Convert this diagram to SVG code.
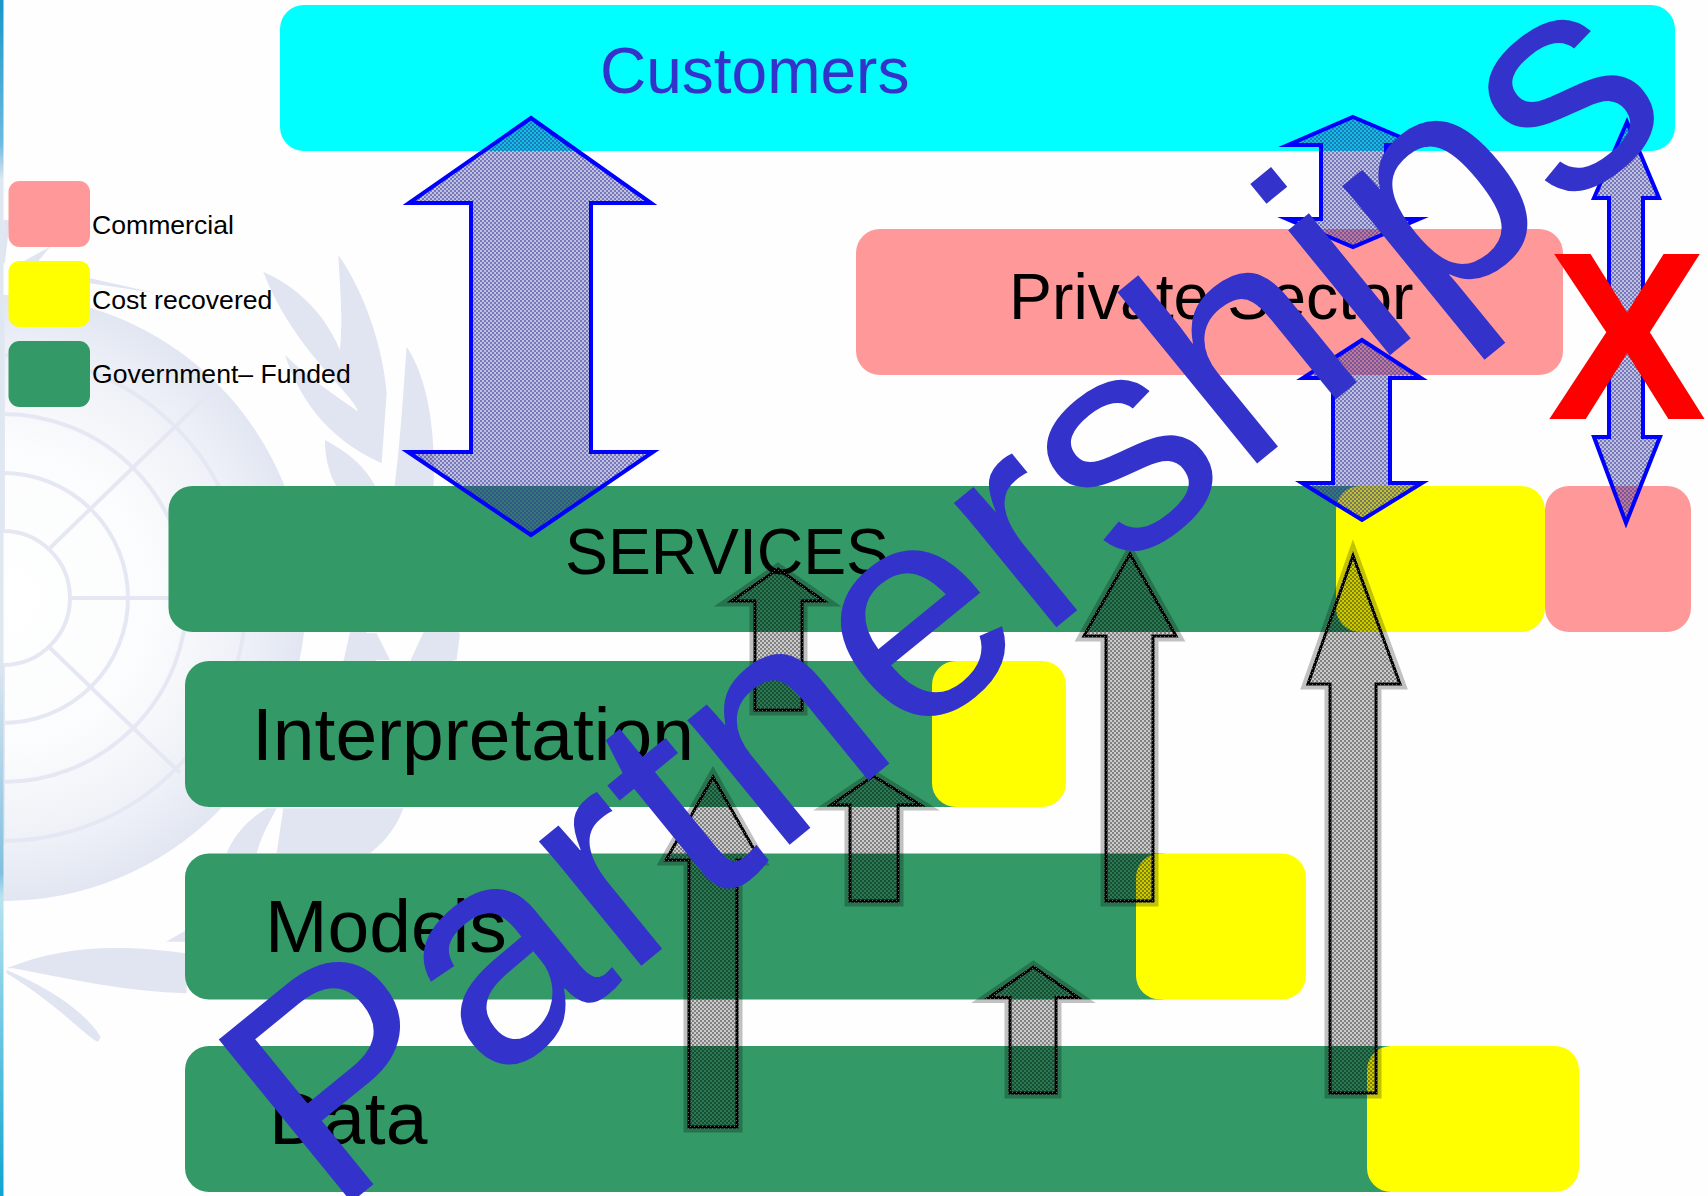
<svg xmlns="http://www.w3.org/2000/svg" width="1708" height="1196" viewBox="0 0 1708 1196">
<style>
text{font-family:"Liberation Sans",Arial,sans-serif}
.green{fill:#339966}.yellow{fill:#ffff00}.pink{fill:#ff9999}.cyan{fill:#00ffff}
.lab{fill:#000;font-size:75px}.leg{fill:#000;font-size:26.6px}
.ring{fill:none;stroke:#e5e8f3;stroke-width:4}
.leaf{fill:#e1e4f1}
.blue{fill:url(#bf);stroke:#0000ff;stroke-width:4;stroke-miterlimit:10}
.black{fill:url(#kf);stroke:url(#ks);stroke-width:3;stroke-miterlimit:10}
.halo{fill:none;stroke:url(#hf);stroke-width:11;stroke-miterlimit:10}
</style>
<defs>
<linearGradient id="strip" x1="0" y1="0" x2="0" y2="1">
<stop offset="0" stop-color="#1a96c8"/><stop offset=".12" stop-color="#6cbadf"/><stop offset=".15" stop-color="#dfe7f1"/><stop offset=".55" stop-color="#dfe7f1"/><stop offset=".73" stop-color="#7fc0de"/><stop offset=".75" stop-color="#b8e3f0"/><stop offset="1" stop-color="#10a4d0"/>
</linearGradient>
<radialGradient id="disc" gradientUnits="userSpaceOnUse" cx="3" cy="598" r="303">
<stop offset="0" stop-color="#ffffff"/><stop offset=".5" stop-color="#fbfcfd"/><stop offset=".8" stop-color="#eef1f7"/><stop offset="1" stop-color="#e2e6f2"/>
</radialGradient>
<pattern id="bf" patternUnits="userSpaceOnUse" width="4" height="4">
<rect width="4" height="4" fill="#333399" fill-opacity=".3"/><rect width="2" height="2" fill="#333399" fill-opacity=".52"/><rect x="2" y="2" width="2" height="2" fill="#333399" fill-opacity=".52"/>
</pattern>
<pattern id="kf" patternUnits="userSpaceOnUse" width="4" height="4">
<rect width="4" height="4" fill="#000" fill-opacity=".2"/><rect width="2" height="2" fill="#000" fill-opacity=".36"/><rect x="2" y="2" width="2" height="2" fill="#000" fill-opacity=".36"/>
</pattern>
<pattern id="ks" patternUnits="userSpaceOnUse" width="4" height="4">
<rect width="4" height="4" fill="#000"/><rect width="1" height="1" fill="#666"/><rect x="2" y="2" width="1" height="1" fill="#666"/>
</pattern>
<pattern id="hf" patternUnits="userSpaceOnUse" width="4" height="4">
<rect width="4" height="4" fill="#000" fill-opacity=".24"/>
</pattern>
<path id="p1" d="M778,569L824,601H802V710H755V601H731.5Z"/>
<path id="p2" d="M713,777L760,860H737V1127H689V860H666Z"/>
<path id="p3" d="M873.5,776L920.5,805H898V901H850V805H831Z"/>
<path id="p4" d="M1130,554L1176,636H1153V901H1106V636H1084Z"/>
<path id="p5" d="M1033.5,967L1078,997.5H1056V1093H1010V997.5H989Z"/>
<path id="p6" d="M1353,555.5L1400,684H1376V1093H1330V684H1308Z"/>
<mask id="outside" maskUnits="userSpaceOnUse" x="0" y="0" width="1708" height="1196">
<rect width="1708" height="1196" fill="#fff"/>
<g fill="#000"><use href="#p1"/><use href="#p2"/><use href="#p3"/><use href="#p4"/><use href="#p5"/><use href="#p6"/></g>
</mask>
</defs>
<rect id="background" width="1708" height="1196" fill="#fefefe"/>
<g id="emblem">
<g transform="translate(0,220) scale(.3333)">
<path class="leaf" d="M1015,105C1090,210 1150,380 1160,520L1145,730C1040,680 920,600 855,405C920,470 1010,530 1075,575C1060,520 880,390 790,155C880,195 970,270 1020,390C1030,300 1020,200 1015,105Z"/>
<path class="leaf" d="M1220,380C1280,470 1310,620 1300,830H1180C1200,680 1210,520 1220,380Z"/>
<path class="leaf" d="M975,660C1050,700 1110,750 1140,830H1030C990,780 975,720 975,660Z"/>
<path class="leaf" d="M1040,1320L1080,1240H1130L1170,1320Z"/>
<path class="leaf" d="M1270,1320L1310,1240H1380L1370,1320Z"/>
<path class="leaf" d="M10,0L30,0L14,130L8,130Z"/>
<path class="leaf" d="M60,130L150,80L110,130Z"/>
<path class="leaf" d="M270,175L470,220L270,190Z"/>
</g>
<g transform="translate(0,620) scale(.3333)">
<path class="leaf" d="M680,700C700,650 740,600 800,565H830C800,620 780,660 770,700Z"/>
<path class="leaf" d="M830,700L850,565H1060L960,670L1060,565H1210C1190,620 1160,660 1110,700Z"/>
<path class="leaf" d="M1030,125L1060,-5H1085L1130,125Z"/>
<path class="leaf" d="M1230,125L1290,-5H1385L1360,125Z"/>
<path class="leaf" d="M20,1045C180,980 340,970 560,1000V1120C380,1115 220,1080 40,1045Z"/>
<path class="leaf" d="M20,1050C140,1100 250,1170 302,1250L295,1265C270,1262 170,1150 20,1060Z"/>
<path class="leaf" d="M498,965L560,930V965Z"/>
</g>
<circle cx="3" cy="598" r="303" fill="url(#disc)"/>
<g class="ring">
<circle cx="3" cy="598" r="67"/><circle cx="3" cy="598" r="125"/><circle cx="3" cy="598" r="184"/><circle cx="3" cy="598" r="243"/>
<path d="M70,598H300M50,548L213,390M50,648L180,773M3,531V298M3,665V845"/>
</g>
</g>
<rect id="strip-edge" width="3.5" height="1196" fill="url(#strip)"/>

<g id="legend-commercial"><rect class="pink" x="8.500" y="181" width="81.500" height="66" rx="11"/><text class="leg" x="92" y="233.500">Commercial</text></g>
<g id="legend-cost-recovered"><rect class="yellow" x="8.500" y="261" width="81.500" height="66" rx="11"/><text class="leg" x="92" y="309">Cost recovered</text></g>
<g id="legend-government"><rect class="green" x="8.500" y="341" width="81.500" height="66" rx="11"/><text class="leg" x="92" y="383">Government– Funded</text></g>

<g id="customers"><rect class="cyan" x="280" y="5" width="1395" height="146" rx="24"/><text x="600" y="93" font-size="64" fill="#3333cc">Customers</text></g>
<g id="private-sector"><rect class="pink" x="856" y="229" width="707" height="146" rx="24"/><text x="1009" y="319" font-size="64.4" fill="#000">Private Sector</text></g>
<g id="services">
<rect class="green" x="168.500" y="486" width="1250" height="146" rx="24"/>
<rect class="yellow" x="1336" y="486" width="209" height="146" rx="24"/>
<text x="565" y="574" font-size="64.300" fill="#000">SERVICES</text>
</g>
<rect id="services-commercial" class="pink" x="1545" y="486" width="146" height="146" rx="24"/>
<g id="interpretation">
<rect class="green" x="185" y="661" width="800" height="146" rx="24"/>
<rect class="yellow" x="932" y="661" width="134" height="146" rx="24"/>
<text class="lab" x="252" y="760">Interpretation</text>
</g>
<g id="models">
<rect class="green" x="185" y="853.500" width="1000" height="146" rx="24"/>
<rect class="yellow" x="1136" y="853.500" width="170" height="146" rx="24"/>
<text class="lab" x="265" y="952">Models</text>
</g>
<g id="data">
<rect class="green" x="185" y="1046" width="1230" height="146" rx="24"/>
<rect class="yellow" x="1367" y="1046" width="212" height="146" rx="24"/>
<text class="lab" x="269" y="1144">Data</text>
</g>

<g id="connectors">
<path class="blue" d="M531,118L651,203H591V452H653L531,535L408,452H471V203H409Z"/>
<path class="blue" d="M1353,117L1419,145H1386V219H1419L1353,247L1287,219H1321V145H1288Z"/>
<path class="blue" d="M1362,340L1421,378H1390V483H1422L1362,520L1302,483H1333V378H1303Z"/>
<path class="blue" d="M1627,122L1659,198H1643V437H1660L1626,523L1594,437H1609V198H1594Z"/>
<g mask="url(#outside)"><use class="halo" href="#p1"/><use class="halo" href="#p2"/><use class="halo" href="#p3"/><use class="halo" href="#p4"/><use class="halo" href="#p5"/><use class="halo" href="#p6"/></g>
<path class="black" d="M778,569L824,601H802V710H755V601H731.5Z"/>
<path class="black" d="M713,777L760,860H737V1127H689V860H666Z"/>
<path class="black" d="M873.5,776L920.5,805H898V901H850V805H831Z"/>
<path class="black" d="M1130,554L1176,636H1153V901H1106V636H1084Z"/>
<path class="black" d="M1033.5,967L1078,997.5H1056V1093H1010V997.5H989Z"/>
<path class="black" d="M1353,555.5L1400,684H1376V1093H1330V684H1308Z"/>
</g>
<text x="1627" y="419" font-size="239" font-weight="700" fill="#ff0000" text-anchor="middle">X</text>
<text transform="translate(332,1218) rotate(-39.2)" font-size="305" letter-spacing="2.5" fill="#3333cc">Partnerships</text>
</svg>
